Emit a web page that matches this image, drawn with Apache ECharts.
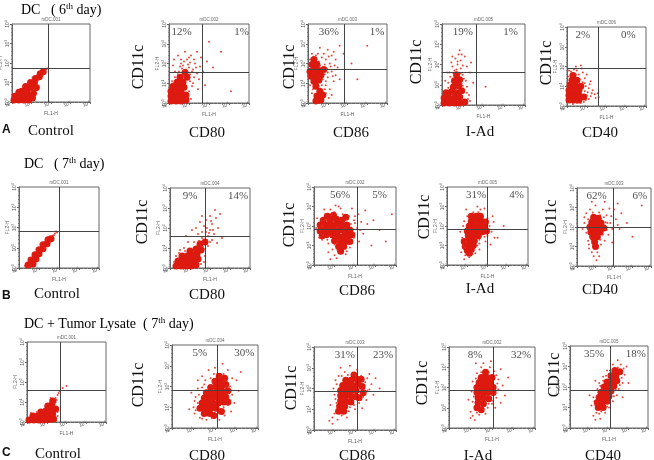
<!DOCTYPE html>
<html>
<head>
<meta charset="utf-8">
<script src="https://cdn.jsdelivr.net/npm/echarts@6/dist/echarts.min.js"></script>
<style>
html,body{margin:0;padding:0;background:#fff;}
#chart{width:654px;height:460px;}
</style>
</head>
<body>
<div id="chart"></div>
<script>
// all points in decades of fluorescence (10^x)
// row A : DC 6th day
var aControlCore = [[0.1,0.1],[0.35,0.1],[0.6,0.1],[0.85,0.1],[1.05,0.2],[0.15,0.3],[0.4,0.3],[0.65,0.3],[0.9,0.35],[1.1,0.45],[0.35,0.5],[0.5,0.55],[0.75,0.55],[0.7,0.8],[0.95,0.75],[1.25,0.75],[0.95,1.0],[1.15,1.0],[1.2,1.2],[1.4,1.3],[1.45,1.45],[1.6,1.55]];
var aControlDots = [[1.75,1.68],[1.7,1.6],[1.3,1.05],[1.2,0.6],[1.3,0.85],[0.3,0.6],[0.55,0.8],[1.55,1.35],[1.0,0.5],[1.05,1.25],[1.65,1.5],[1.8,1.72],[0.8,0.95],[1.35,1.15]];
var aCD80Core = [[0.1,0.1],[0.35,0.1],[0.6,0.1],[0.85,0.15],[0.1,0.35],[0.35,0.35],[0.6,0.35],[0.85,0.4],[0.1,0.6],[0.35,0.6],[0.6,0.6],[0.2,0.85],[0.5,0.85],[0.75,0.8],[0.4,1.05],[0.7,1.05],[0.55,1.3],[0.9,1.3],[0.8,1.55]];
var aCD80Dots = [[1.0,1.8],[0.7,1.9],[1.2,1.7],[1.3,2.0],[0.9,2.2],[1.1,2.4],[0.5,1.6],[0.3,1.3],[1.4,1.5],[1.5,1.2],[1.2,1.0],[1.0,0.6],[1.6,2.3],[0.8,2.6],[1.4,2.6],[0.6,2.2],[1.9,2.1],[2.2,1.8],[1.8,0.9],[0.2,1.9],[1.05,1.45],[1.25,2.2],[0.95,1.95],[0.65,1.75],[2.6,2.6],[2.0,3.1],[1.55,1.85],[0.45,2.4],[1.15,0.85],
  [0.15,1.1],[0.45,1.45],[0.75,1.35],[1.05,1.1],[0.95,0.3],[1.1,0.2],[0.3,1.6],[0.85,1.7],[1.15,1.6],[0.6,2.0],[0.75,2.1],[1.05,2.05],[1.35,1.8],[1.0,2.3],[0.55,1.85],[1.25,1.3],[0.25,2.2],[1.7,1.6],[1.45,0.7],[3.1,0.6]];
var aCD86Core = [[0.1,1.6],[0.3,1.7],[0.55,1.65],[0.8,1.7],[0.15,1.35],[0.4,1.4],[0.2,1.95],[0.45,1.95],[0.3,1.1],[0.55,1.15],[0.4,0.85],[0.6,0.6],[0.45,0.35],[0.65,0.15],[0.4,0.1],[0.75,0.4],[0.3,2.2],[0.65,1.4]];
var aCD86Dots = [[0.9,2.2],[1.1,2.0],[1.2,1.6],[1.0,1.3],[1.3,1.1],[0.9,0.9],[1.1,0.7],[0.8,2.5],[0.5,2.5],[1.2,2.4],[1.4,2.2],[1.5,1.8],[1.0,2.7],[0.6,2.8],[1.4,1.4],[0.95,1.75],[1.3,2.6],[0.2,2.5],[0.7,2.3],[1.6,2.9],[1.8,2.5],[2.2,2.0],[0.9,0.5],[1.05,0.25],[0.25,0.7],[1.15,1.85],[0.85,1.45],[1.6,1.2],[3.0,2.9],[2.5,1.2],
  [0.85,1.95],[1.0,1.55],[0.75,1.2],[0.85,0.7],[0.2,0.5],[0.1,0.9],[0.6,1.9],[0.4,2.4],[0.1,2.2],[1.05,2.35],[1.25,1.35],[0.7,0.9],[0.9,1.1],[1.35,1.9],[0.55,2.1],[1.2,0.4]];
var aIAdCore = [[0.1,0.1],[0.35,0.1],[0.6,0.1],[0.85,0.1],[1.1,0.15],[0.1,0.35],[0.35,0.35],[0.6,0.35],[0.85,0.4],[0.2,0.6],[0.45,0.65],[0.7,0.6],[0.95,0.7],[0.55,0.9],[0.8,0.95],[0.6,1.2],[0.85,1.25],[0.7,1.5]];
var aIAdDots = [[0.6,1.7],[0.9,1.8],[0.75,2.0],[0.5,1.9],[0.9,2.2],[0.65,2.3],[1.0,1.5],[1.15,1.2],[0.4,1.4],[0.3,1.1],[1.2,0.9],[1.3,0.5],[1.0,1.95],[0.45,2.1],[1.1,2.4],[0.8,2.5],[0.25,1.6],[1.35,1.6],[1.5,1.1],[0.95,1.05],[0.7,1.75],[0.55,1.55],[1.4,2.1],[2.1,0.9],[0.85,2.7],
  [1.0,0.95],[1.2,0.6],[1.25,0.3],[0.3,0.85],[0.15,1.2],[0.35,1.6],[0.6,1.45],[0.9,1.55],[1.05,1.3],[0.75,2.15],[0.5,2.4],[1.2,1.9],[0.95,2.5],[1.35,0.2]];
var aCD40Core = [[0.1,0.3],[0.35,0.3],[0.6,0.3],[0.1,0.55],[0.35,0.55],[0.6,0.55],[0.85,0.45],[0.1,0.8],[0.35,0.8],[0.6,0.8],[0.15,1.05],[0.4,1.05],[0.7,1.0],[0.25,1.3],[0.5,1.3],[0.3,1.55]];
var aCD40Dots = [[0.9,0.75],[1.0,0.55],[1.2,0.5],[1.4,0.6],[1.55,0.65],[1.1,0.35],[0.8,1.2],[0.9,1.4],[0.6,1.6],[0.5,1.8],[0.8,1.7],[0.2,1.75],[0.95,1.0],[1.1,0.9],[0.7,0.15],[0.3,0.1],[1.3,0.8],[1.0,1.6],[0.45,2.0],[0.75,1.9],[1.2,1.25],[0.05,1.5],[1.6,0.45],[0.85,0.2],
  [0.1,1.8],[0.35,1.85],[0.65,1.35],[0.9,1.15],[1.05,0.7],[1.25,0.65],[1.45,0.4],[0.95,0.3],[0.45,1.6],[0.7,2.05],[1.15,1.1],[0.05,0.2],[0.5,0.15]];

// row B : DC 7th day
var bControlCore = [[0.45,0.15],[0.7,0.2],[0.6,0.4],[0.85,0.45],[0.8,0.65],[1.0,0.7],[1.0,0.9],[1.2,0.95],[1.2,1.15],[1.4,1.2],[1.45,1.4],[1.6,1.45]];
var bControlDots = [[1.7,1.6],[1.8,1.7],[1.9,1.75],[1.65,1.55],[1.75,1.62],[0.3,0.1],[0.55,0.05],[0.95,0.4],[1.3,1.0],[1.1,1.2],[1.55,1.3],[0.5,0.5],[1.35,1.45],[1.85,1.8]];
var bCD80Core = [[0.3,0.1],[0.55,0.1],[0.8,0.1],[1.05,0.1],[1.3,0.15],[0.4,0.35],[0.65,0.35],[0.9,0.35],[1.15,0.4],[1.4,0.45],[0.6,0.6],[0.85,0.6],[1.1,0.65],[1.35,0.7],[1.0,0.85],[1.3,0.95],[1.55,0.9],[1.5,1.2],[1.75,1.3]];
var bCD80Dots = [[1.9,1.6],[2.0,1.9],[1.8,1.8],[2.1,2.2],[2.2,1.7],[1.7,2.1],[2.3,2.5],[1.6,1.5],[1.4,1.7],[1.2,1.3],[1.9,1.1],[2.1,1.4],[2.4,2.0],[2.0,2.6],[1.8,2.4],[1.1,1.9],[0.9,1.3],[0.7,1.0],[1.65,1.05],[2.25,2.9],[2.5,2.7],[1.5,2.3],[0.5,0.9],[1.75,0.6],[2.0,1.3],[1.85,2.0],[2.6,1.5],[1.3,2.0],
  [0.2,0.3],[0.3,0.6],[0.45,0.75],[0.75,0.85],[1.2,0.9],[1.55,1.1],[1.7,0.95],[1.85,1.4],[1.95,1.75],[2.15,1.9],[1.6,1.8],[1.45,1.35],[1.7,0.3],[1.55,0.2],[2.05,2.35],[1.6,2.6],[2.35,1.25],[0.8,1.6]];
var bCD86Core = [[0.5,1.8],[0.75,1.8],[1.0,1.8],[1.25,1.8],[1.5,1.75],[1.75,1.8],[0.6,2.05],[0.85,2.05],[1.1,2.1],[1.35,2.05],[1.6,2.05],[0.8,2.3],[1.1,2.35],[0.6,1.55],[0.9,1.55],[1.15,1.5],[1.4,1.45],[1.65,1.5],[1.0,1.25],[1.3,1.2],[1.55,1.2],[1.2,0.95],[1.45,0.95],[1.3,0.7],
  [0.3,1.75],[0.3,2.05],[0.45,2.3],[0.65,2.5],[1.35,2.3],[1.85,1.55],[1.75,1.2],[0.4,1.5],[1.55,2.45],[0.95,2.55]];
var bCD86Dots = [[0.35,2.3],[0.4,1.3],[0.7,1.1],[0.9,0.8],[1.0,0.5],[0.8,0.3],[1.6,0.7],[1.8,1.1],[1.95,1.4],[2.1,1.9],[2.3,2.2],[2.0,2.5],[1.7,2.5],[1.4,2.6],[1.0,2.7],[0.55,2.6],[2.4,1.6],[2.6,2.1],[2.2,1.2],[1.85,2.9],[2.9,2.3],[3.2,1.8],[3.5,1.2],[2.5,2.8],[1.2,3.0],[0.3,1.8],[1.75,0.9],[2.15,2.6],[3.8,2.6],[2.8,1.0],
  [0.4,2.0],[0.45,1.55],[0.55,2.3],[0.65,1.3],[0.85,2.55],[1.3,2.35],[1.55,2.35],[1.8,2.1],[1.9,1.65],[1.75,1.3],[1.15,0.75],[1.0,1.05],[0.5,2.85],[1.3,2.9],[2.0,2.15],[2.25,1.8],[1.55,0.55],[1.1,0.35],
  [0.1,1.9],[0.15,2.4],[0.25,1.4],[0.8,2.85],[1.05,3.05],[0.7,0.65],[1.95,2.3]];
var bIAdCore = [[1.1,2.0],[1.35,2.0],[1.6,2.0],[1.85,1.95],[1.2,2.25],[1.45,2.3],[1.7,2.25],[1.0,1.75],[1.25,1.75],[1.5,1.75],[1.75,1.7],[1.05,1.5],[1.3,1.5],[1.55,1.5],[1.1,1.25],[1.35,1.25],[1.05,1.0],[1.3,1.0],[1.0,0.75],[1.2,0.8],[1.45,2.5],
  [1.95,1.75],[1.9,2.2],[1.65,2.5],[1.2,2.5],[0.85,1.2],[0.9,0.95],[1.1,0.6]];
var bIAdDots = [[0.9,0.5],[0.85,0.3],[1.1,0.4],[0.8,1.0],[0.75,1.4],[0.8,2.0],[1.0,2.5],[1.3,2.7],[1.7,2.6],[2.0,2.4],[2.1,2.0],[2.0,1.5],[1.9,1.2],[1.6,1.1],[1.6,0.8],[1.4,0.6],[2.2,1.7],[2.3,2.2],[1.85,2.9],[0.95,2.85],[0.65,1.7],[2.5,1.4],[2.8,2.0],[1.5,3.0],[1.25,0.55],[2.15,1.05],[0.7,0.65],
  [0.9,1.75],[0.85,2.25],[1.15,2.55],[1.55,2.7],[1.9,2.2],[2.0,1.8],[1.85,1.45],[1.6,1.3],[1.5,1.0],[1.1,0.55],[0.95,1.2],[0.9,0.9],[2.25,2.5],[1.65,2.85],[2.35,1.4]];
var bCD40Core = [[0.7,2.0],[0.95,2.0],[1.2,2.0],[1.45,1.95],[0.8,2.25],[1.05,2.25],[1.3,2.2],[0.75,1.75],[1.0,1.75],[1.25,1.75],[0.9,2.5],[1.15,2.45],[0.85,1.5],[1.1,1.5],[0.95,1.25],[1.0,1.0]];
var bCD40Dots = [[0.4,2.2],[0.5,2.7],[0.7,2.9],[1.0,3.1],[1.4,2.9],[1.6,2.6],[1.8,2.2],[1.7,1.6],[1.5,1.3],[1.3,1.1],[1.1,0.7],[0.9,0.5],[1.05,0.3],[0.6,1.3],[0.5,1.7],[2.1,2.4],[2.3,1.9],[2.0,2.9],[1.5,3.3],[0.3,1.9],[2.4,2.7],[0.8,3.3],[1.2,2.75],[1.55,2.25],[2.7,2.2],[3.0,1.5],[0.65,0.9],[1.9,1.2],[3.5,3.1],[2.2,3.2],
  [0.55,2.0],[0.6,2.4],[0.85,2.75],[1.25,2.6],[1.45,2.5],[1.65,2.2],[1.6,1.85],[1.4,1.6],[1.25,1.35],[0.7,1.5],[0.65,1.1],[0.8,0.7],[1.2,0.5],[1.85,2.55],[1.9,1.9],[0.4,2.5],[1.75,2.95],[2.2,2.1]];

// row C : DC + tumor lysate 7th day
var cControlCore = [[0.1,0.1],[0.35,0.1],[0.6,0.1],[0.85,0.1],[1.1,0.12],[1.35,0.15],[0.3,0.3],[0.55,0.3],[0.8,0.3],[1.05,0.35],[1.3,0.4],[0.7,0.5],[0.95,0.55],[1.15,0.6],[1.45,0.65],[1.05,0.8],[1.25,0.85],[1.3,1.05]];
var cControlDots = [[1.45,1.2],[1.55,1.35],[1.6,1.45],[1.55,0.5],[1.4,0.9],[1.5,1.1],[1.2,1.2],[0.5,0.5],[1.65,1.55],[1.8,1.7],[2.0,1.8],[1.55,0.3],[1.45,1.0],[0.2,0.45]];
var cCD80Core = [[1.4,1.2],[1.65,1.2],[1.9,1.2],[2.15,1.2],[2.4,1.25],[1.5,1.45],[1.75,1.45],[2.0,1.5],[2.25,1.5],[2.5,1.5],[1.6,1.7],[1.85,1.7],[2.1,1.75],[2.35,1.75],[1.8,1.95],[2.05,2.0],[2.3,2.0],[2.0,2.25],[2.25,2.25],[1.3,0.95],[1.55,0.95],[1.8,0.95],[1.5,0.7],[1.75,0.7],[2.05,0.95],
  [2.6,1.8],[2.5,2.1],[2.45,2.4],[2.2,2.5],[1.95,0.6],[2.3,0.8],[2.6,1.25]];
var cCD80Dots = [[1.0,1.0],[1.1,1.5],[1.2,1.9],[1.3,0.5],[1.6,0.4],[2.0,0.6],[2.3,0.9],[2.6,1.1],[2.8,1.6],[2.7,2.0],[2.5,2.3],[2.4,2.6],[2.1,2.6],[1.8,2.4],[1.5,2.1],[1.4,2.5],[2.0,2.9],[2.6,2.8],[3.0,2.3],[3.1,1.8],[2.9,1.2],[0.9,1.7],[1.2,2.3],[1.05,0.7],[2.2,0.4],[3.2,2.7],[1.7,2.8],[2.35,3.1],[0.8,0.9],[2.75,0.8],
  [1.2,1.2],[1.25,1.6],[1.4,1.95],[1.55,2.3],[1.9,2.2],[2.2,2.45],[2.55,2.05],[2.65,1.7],[2.6,1.35],[2.4,1.0],[2.15,0.75],[1.85,0.5],[1.4,0.45],[1.1,0.85],[2.8,2.4],[1.95,2.6],[2.45,0.6],[1.05,1.3]];
var cCD86Core = [[1.3,1.9],[1.55,1.9],[1.8,1.9],[2.05,1.9],[1.4,2.15],[1.65,2.15],[1.9,2.15],[2.15,2.2],[1.55,2.4],[1.8,2.4],[2.1,2.45],[1.3,1.65],[1.55,1.65],[1.8,1.65],[2.05,1.6],[1.3,1.4],[1.55,1.4],[1.8,1.35],[1.25,1.15],[1.5,1.15],[1.2,0.9],[1.45,0.9],[2.35,2.1],
  [2.3,2.45],[2.4,1.8],[2.2,1.55],[1.95,2.65]];
var cCD86Dots = [[0.9,0.6],[1.0,0.8],[1.1,1.3],[1.0,1.7],[1.1,2.2],[1.2,2.6],[1.5,2.8],[1.9,2.7],[2.3,2.6],[2.5,2.3],[2.6,1.9],[2.4,1.6],[2.2,1.3],[2.0,1.0],[1.7,0.9],[1.6,0.6],[2.8,2.2],[2.9,1.7],[2.7,2.7],[3.0,2.5],[2.1,2.9],[0.8,1.2],[1.3,3.0],[2.35,1.05],[0.75,0.45],[3.2,2.0],[1.75,3.1],[2.55,1.45],[0.95,2.0],
  [1.05,1.5],[1.15,1.05],[1.05,2.4],[1.35,2.6],[1.65,2.65],[2.0,2.65],[2.35,2.35],[2.45,1.9],[2.3,1.75],[2.25,1.45],[1.95,1.2],[1.75,1.1],[1.35,0.7],[1.15,0.5],[2.6,2.5],[2.7,1.95],[0.9,0.3]];
var cIAdCore = [[1.3,2.0],[1.55,2.0],[1.8,2.0],[2.05,2.0],[1.4,2.25],[1.65,2.25],[1.9,2.25],[1.5,2.5],[1.75,2.5],[2.0,2.5],[1.7,2.75],[1.3,1.75],[1.55,1.75],[1.8,1.75],[2.05,1.75],[1.35,1.5],[1.6,1.5],[1.85,1.45],[1.35,1.25],[1.6,1.2],[1.3,1.0],[1.5,0.9]];
var cIAdDots = [[1.1,0.6],[1.2,0.4],[1.0,0.8],[1.1,1.3],[1.05,1.8],[1.1,2.3],[1.3,2.7],[1.5,3.0],[1.9,3.0],[2.1,2.8],[2.3,2.4],[2.3,1.9],[2.2,1.5],[2.0,1.2],[1.8,1.0],[1.7,0.7],[2.5,2.1],[2.4,2.9],[1.95,3.3],[0.9,1.4],[2.6,1.6],[1.4,0.65],[2.15,1.0],[1.25,3.2],[2.75,2.5],
  [1.15,1.55],[1.2,2.0],[1.25,2.45],[1.5,2.75],[1.85,2.75],[2.2,2.6],[2.25,2.2],[2.15,1.7],[2.05,1.35],[1.85,1.2],[1.6,0.95],[1.3,0.75],[1.0,0.5],[2.4,1.25],[1.6,3.2]];
var cCD40Core = [[1.5,1.5],[1.75,1.5],[2.0,1.55],[1.6,1.75],[1.85,1.75],[2.1,1.8],[1.75,2.0],[2.0,2.0],[2.25,2.05],[1.9,2.25],[2.15,2.3],[2.4,2.3],[2.1,2.55],[2.35,2.55],[2.3,2.8],[2.55,2.75],[1.4,1.25],[1.65,1.25],[1.9,1.3],[1.45,1.0],[1.7,1.0]];
var cCD40Dots = [[1.2,0.6],[1.3,0.4],[1.5,0.7],[1.1,1.1],[1.2,1.5],[1.4,1.9],[1.5,2.2],[1.7,2.5],[1.9,2.8],[2.2,3.1],[2.6,3.1],[2.8,2.6],[2.7,2.2],[2.5,1.9],[2.4,1.6],[2.2,1.3],[2.0,1.0],[1.8,0.75],[2.9,3.0],[1.0,1.6],[2.7,1.5],[1.3,2.3],[3.0,2.2],[1.55,0.45],[2.45,3.3],
  [1.3,1.1],[1.35,1.5],[1.45,1.75],[1.55,2.05],[1.7,2.3],[1.85,2.55],[2.05,2.8],[2.45,2.95],[2.65,2.45],[2.55,2.1],[2.35,1.85],[2.25,1.55],[2.05,1.3],[1.9,1.05],[1.6,0.8],[1.35,0.75],[1.25,1.3],[2.75,2.9]];

var coreSets = [aControlCore,aCD80Core,aCD86Core,aIAdCore,aCD40Core,
                bControlCore,bCD80Core,bCD86Core,bIAdCore,bCD40Core,
                cControlCore,cCD80Core,cCD86Core,cIAdCore,cCD40Core];
var dotSets = [aControlDots,aCD80Dots,aCD86Dots,aIAdDots,aCD40Dots,
               bControlDots,bCD80Dots,bCD86Dots,bIAdDots,bCD40Dots,
               cControlDots,cCD80Dots,cCD86Dots,cIAdDots,cCD40Dots];

// quadrant gates (decades)
var gateX = [1.85,1.67,1.82,1.67,1.58, 2.0,1.75,2.1,2.0,1.96, 1.67,2.12,2.1,2.06,2.05];
var gateY = [1.72,1.58,1.7,1.6,1.9, 1.8,1.57,1.83,1.83,1.98, 1.58,1.8,1.85,1.88,1.85];
// upper quadrant percentages
var pctUL = ['','12%','36%','19%','2%', '','9%','56%','31%','62%', '','5%','31%','8%','35%'];
var pctUR = ['','1%','1%','1%','0%', '','14%','5%','4%','6%', '','30%','23%','32%','18%'];
var sampleIds = ['mDC.001','mDC.002','mDC.003','mDC.005','mDC.006',
                 'mDC.001','mDC.004','mDC.002','mDC.005','mDC.003',
                 'mDC.001','mDC.004','mDC.003','mDC.002','mDC.005'];
var markers = ['Control','CD80','CD86','I-Ad','CD40'];

// layout
var gridRects = [[12,24,78,78],[169,24,80,79],[308,24,79,79],[442,24,83,81],[567,27,79,79],
                 [19,187,80,81],[170,188,80,80],[314,187,82,78],[447,187,81,78],[577,188,74,78],
                 [27,342,79,80],[172,345,86,83],[314,347,82,83],[449,347,86,81],[570,346,78,82]];
var pctPosX = [[0,0],[0.63,3.63],[1.06,3.5],[1.0,3.3],[0.8,3.1],
               [0,0],[1.0,3.4],[1.27,3.2],[1.43,3.43],[1.06,3.4],
               [0,0],[1.29,3.36],[1.5,3.37],[1.21,3.35],[1.23,3.38]];
var cd11cPos = [null,[139,67],[290,67],[417,62],[547,63],
                null,[143,222],[290,225],[425,217],[552,222],
                null,[139,385],[292,388],[423,383],[555,375]];
var xlabPos = [[51,131],[207,133],[351,133],[480,132],[600,133],
               [57,294],[207,295],[357,291],[480,289],[600,290],
               [58,454],[207,456],[357,456],[478,456],[603,456]];

var serif = '"Liberation Serif", "DejaVu Serif", serif';
var red = '#dd1a10';

var chart = echarts.init(document.getElementById('chart'));

var powRich = {
  a:{fontSize:5,color:'#555',fontFamily:'Arial'},
  s:{fontSize:3.5,color:'#555',fontFamily:'Arial',padding:[0,0,3,0]}
};
function powLabel(v){ return '{a|10}{s|' + v + '}'; }

var grids = [], xAxes = [], yAxes = [], series = [], graphics = [];

gridRects.forEach(function(r, i){
  grids.push({left:r[0], top:r[1], width:r[2], height:r[3], show:true,
    borderColor:'#666', borderWidth:1, backgroundColor:'#fff', outerBoundsMode:'none'});
  var axisCommon = {
    gridIndex:i, type:'value', min:0, max:4, interval:1,
    nameLocation:'middle',
    nameTextStyle:{fontSize:5,color:'#666',fontFamily:'Arial'},
    axisLine:{lineStyle:{color:'#666',width:1}},
    axisTick:{length:2,lineStyle:{color:'#666'}},
    minorTick:{show:true,splitNumber:5,length:1,lineStyle:{color:'#888'}},
    splitLine:{show:false}
  };
  xAxes.push(Object.assign({}, axisCommon, {
    name:'FL1-H', nameGap:9,
    axisLabel:{margin:1,rotate:20,formatter:powLabel,rich:powRich}
  }));
  yAxes.push(Object.assign({}, axisCommon, {
    name:'FL2-H', nameGap:9,
    axisLabel:{margin:1,rotate:90,formatter:powLabel,rich:powRich}
  }));

  // dense part of the cloud
  series.push({
    type:'scatter', xAxisIndex:i, yAxisIndex:i, silent:true,
    symbolSize:7, itemStyle:{color:red, opacity:1, borderWidth:0},
    data:coreSets[i], z:2
  });
  // scattered events
  series.push({
    type:'scatter', xAxisIndex:i, yAxisIndex:i, silent:true,
    symbolSize:2, itemStyle:{color:'#e3281c', opacity:0.85},
    data:dotSets[i], z:2
  });

  var pctData = [];
  if (pctUL[i]) {
    pctData.push({name:pctUL[i], value:[pctPosX[i][0],3.6]});
    pctData.push({name:pctUR[i], value:[pctPosX[i][1],3.6]});
  }
  series.push({
    type:'scatter', xAxisIndex:i, yAxisIndex:i, silent:true,
    symbolSize:0, data:pctData, z:5,
    label:{show:true, position:'inside', formatter:'{b}', fontSize:11,
      fontFamily:serif, color:'#222'},
    markLine:{
      silent:true, symbol:'none', animation:false,
      lineStyle:{color:'#444', width:1, type:'solid'},
      label:{show:false},
      data:[{xAxis:gateX[i]},{yAxis:gateY[i]}]
    }
  });

  graphics.push({type:'text', x:r[0]+r[2]/2, y:r[1]-2,
    style:{text:sampleIds[i], font:'4.5px Arial', fill:'#666', align:'center', verticalAlign:'bottom'}});

  if (cd11cPos[i]) {
    graphics.push({type:'text', x:cd11cPos[i][0], y:cd11cPos[i][1], rotation:Math.PI/2,
      style:{text:'CD11c', font:'16px ' + serif, fill:'#111', align:'center', verticalAlign:'middle'}});
  }
  graphics.push({type:'text', x:xlabPos[i][0], y:xlabPos[i][1],
    style:{text:markers[i % 5], font:'15px ' + serif, fill:'#111', align:'center', verticalAlign:'middle'}});
});

// panel letters and row titles
var rowLetters = ['A','B','C'];
var letterY = [130, 296, 453];
rowLetters.forEach(function(t, k){
  graphics.push({type:'text', x:2, y:letterY[k],
    style:{text:t, font:'bold 12px Arial', fill:'#111', align:'left', verticalAlign:'middle'}});
});
var titleRich = {
  a:{fontSize:14, fontFamily:serif, color:'#111'},
  s:{fontSize:9, fontFamily:serif, color:'#111', padding:[0,0,6,0]}
};
var rowTitles = ['{a|DC   ( 6}{s|th}{a| day)}',
                 '{a|DC   ( 7}{s|th}{a| day)}',
                 '{a|DC + Tumor Lysate  ( 7}{s|th}{a| day)}'];
var titlePos = [[21,10],[24,164],[24,324]];
rowTitles.forEach(function(t, k){
  graphics.push({type:'text', x:titlePos[k][0], y:titlePos[k][1],
    style:{text:t, rich:titleRich, align:'left', verticalAlign:'middle'}});
});

chart.setOption({
  animation:false,
  backgroundColor:'#fff',
  grid:grids,
  xAxis:xAxes,
  yAxis:yAxes,
  series:series,
  graphic:graphics
});
</script>
</body>
</html>
